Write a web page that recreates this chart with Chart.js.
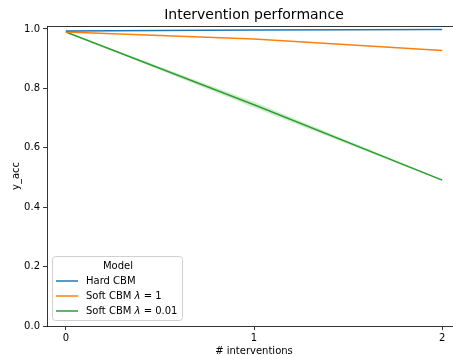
<!DOCTYPE html>
<html>
<head>
<meta charset="utf-8">
<script src="https://cdn.jsdelivr.net/npm/chart.js@4"></script>
<style>
  html, body { margin: 0; padding: 0; overflow: hidden; background: #fff; }
  #wrap { width: 462px; height: 355px; }
</style>
</head>
<body>
<div id="wrap"><canvas id="chart"></canvas></div>
<script>
// data
const interventions = [0, 1, 2];
const hardCBM = [0.993, 0.997, 0.998];
const softCBM1 = [0.990, 0.966, 0.928];
const softCBM001 = [0.990, 0.745, 0.491];
const softCBM001Upper = [0.991, 0.755, 0.493];
const softCBM001Lower = [0.989, 0.735, 0.489];
const yTicks = [0.0, 0.2, 0.4, 0.6, 0.8, 1.0];
const xTicks = [0, 1, 2];

const FONT = 'DejaVu Sans';
const toXY = arr => arr.map((v, i) => ({ x: interventions[i], y: v }));

// title, top spine and legend drawn by hand to look like matplotlib
const decorations = {
  id: 'decorations',
  afterDraw(chart) {
    const ctx = chart.ctx;
    const a = chart.chartArea;
    ctx.save();
    // top spine
    ctx.strokeStyle = '#000';
    ctx.lineWidth = 0.8;
    ctx.beginPath();
    ctx.moveTo(a.left, a.top + 0.5);
    ctx.lineTo(a.right, a.top + 0.5);
    ctx.stroke();
    // title
    ctx.fillStyle = '#000';
    ctx.font = '14px "' + FONT + '"';
    ctx.textAlign = 'center';
    ctx.textBaseline = 'middle';
    ctx.fillText('Intervention performance', 254, 15);

    // legend
    const bx = 52.5, by = 256.5, bw = 130, bh = 64;
    ctx.beginPath();
    ctx.roundRect(bx, by, bw, bh, 3);
    ctx.fillStyle = 'rgba(255,255,255,0.8)';
    ctx.fill();
    ctx.strokeStyle = '#d0d0d0';
    ctx.lineWidth = 1;
    ctx.stroke();
    ctx.fillStyle = '#000';
    ctx.font = '10px "' + FONT + '"';
    ctx.textAlign = 'center';
    ctx.fillText('Model', 118, 266);
    const shown = chart.data.datasets.filter(d => !d.hideLegend);
    const rowsY = [281, 296, 311];
    shown.forEach((d, i) => {
      const y = rowsY[i];
      ctx.strokeStyle = d.borderColor;
      ctx.lineWidth = 1.5;
      ctx.beginPath();
      ctx.moveTo(56, y);
      ctx.lineTo(78, y);
      ctx.stroke();
      ctx.fillStyle = '#000';
      ctx.textAlign = 'left';
      let x = 86;
      const parts = d.label.split('λ');
      parts.forEach((p, j) => {
        ctx.font = '10px "' + FONT + '"';
        ctx.fillText(p, x, y);
        x += ctx.measureText(p).width;
        if (j < parts.length - 1) {
          ctx.font = 'italic 10px "' + FONT + '"';
          ctx.fillText('λ', x, y);
          x += ctx.measureText('λ').width;
        }
      });
    });
    ctx.restore();
  }
};

new Chart(document.getElementById('chart'), {
  type: 'line',
  data: {
    datasets: [
      { label: 'Hard CBM', data: toXY(hardCBM), borderColor: '#1f77b4', borderWidth: 1.5, pointRadius: 0, fill: false },
      { label: 'Soft CBM λ = 1', data: toXY(softCBM1), borderColor: '#ff7f0e', borderWidth: 1.5, pointRadius: 0, fill: false },
      { label: 'Soft CBM λ = 0.01', data: toXY(softCBM001), borderColor: '#2ca02c', borderWidth: 1.5, pointRadius: 0, fill: false },
      { label: 'upper', hideLegend: true, data: toXY(softCBM001Upper), borderWidth: 0, borderColor: 'rgba(0,0,0,0)', pointRadius: 0, fill: false },
      { label: 'lower', hideLegend: true, data: toXY(softCBM001Lower), borderWidth: 0, borderColor: 'rgba(0,0,0,0)', pointRadius: 0, fill: '-1', backgroundColor: 'rgba(44,160,44,0.2)' }
    ]
  },
  options: {
    responsive: true,
    maintainAspectRatio: false,
    animation: false,
    layout: { padding: { top: 26, right: 1, left: 0, bottom: 0 } },
    plugins: {
      legend: { display: false },
      title: { display: false },
      tooltip: { enabled: false }
    },
    scales: {
      x: {
        type: 'linear',
        min: -0.1,
        max: 2.1,
        afterBuildTicks: axis => { axis.ticks = xTicks.map(v => ({ value: v })); },
        afterFit: axis => { axis.height = 29; },
        grid: { drawOnChartArea: false, tickLength: 4, tickColor: '#000', tickWidth: 0.8 },
        border: { display: true, color: '#000', width: 0.8 },
        ticks: { color: '#000', font: { family: FONT, size: 10 }, padding: 2, maxRotation: 0 },
        title: { display: true, text: '# interventions', color: '#000', font: { family: FONT, size: 10 }, padding: { top: 0, bottom: -2 } }
      },
      y: {
        min: 0,
        max: 1.0101,
        afterBuildTicks: axis => { axis.ticks = yTicks.map(v => ({ value: v })); },
        afterFit: axis => { axis.width = 47; },
        grid: { drawOnChartArea: false, tickLength: 4, tickColor: '#000', tickWidth: 0.8 },
        border: { display: true, color: '#000', width: 0.8 },
        ticks: { color: '#000', font: { family: FONT, size: 10 }, padding: 3, callback: v => v.toFixed(1) },
        title: { display: true, text: 'y_acc', color: '#000', font: { family: FONT, size: 10 }, padding: { top: 10, bottom: 0 } }
      }
    }
  },
  plugins: [decorations]
});
</script>
</body>
</html>
